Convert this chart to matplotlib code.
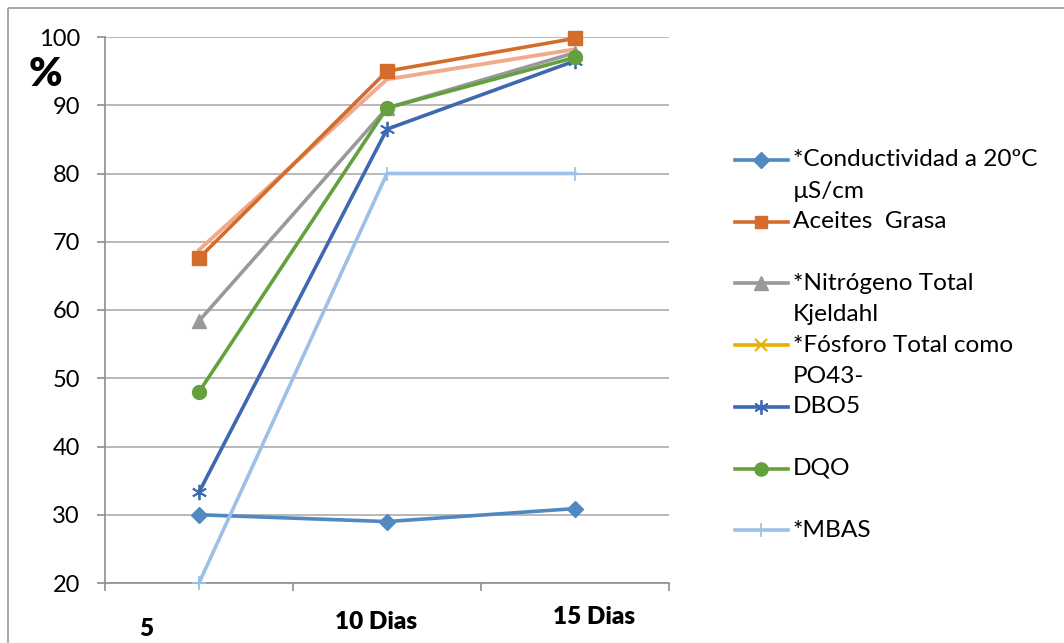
import matplotlib
matplotlib.use("Agg")
import matplotlib.pyplot as plt
import numpy as np
from matplotlib.lines import Line2D
from matplotlib.patches import Rectangle
import matplotlib.transforms as mtransforms

plt.rcParams['font.family'] = ['Lato', 'DejaVu Sans']

categories = ["5", "10 Dias", "15 Dias"]
conductividad = [30.0, 29.0, 30.9]
aceites = [67.6, 95.0, 99.8]
nitrogeno = [58.4, 89.6, 97.7]
fosforo = [np.nan, np.nan, np.nan]
dbo5 = [33.3, 86.5, 96.5]
dqo = [48.0, 89.6, 97.0]
mbas = [20.0, 80.0, 80.0]
extra_salmon = [68.8, 93.8, 98.2]

series_labels = ["*Conductividad a 20ºC\nµS/cm", "Aceites  Grasa", "*Nitrógeno Total\nKjeldahl",
                 "*Fósforo Total como\nPO43-", "DBO5", "DQO", "*MBAS"]
yticks = [20, 30, 40, 50, 60, 70, 80, 90, 100]

styles = [
    dict(color="#4F89C0", marker="D", ms=8.5, lw=2.6),
    dict(color="#D46D2C", marker="s", ms=9.5, lw=2.6),
    dict(color="#999999", marker="^", ms=10, lw=2.6),
    dict(color="#E6B000", marker="x", ms=9, lw=2.6, mew=1.5),
    dict(color="#3E68B0", marker=(6, 2, 0), ms=11, lw=2.6, mew=1.3),
    dict(color="#64A03D", marker="o", ms=10, lw=2.6),
    dict(color="#9DC0E6", marker="+", ms=10, lw=2.6, mew=1.3),
]
data = [conductividad, aceites, nitrogeno, fosforo, dbo5, dqo, mbas]

W, H = 1064, 643
fig = plt.figure(figsize=(W / 100, H / 100), dpi=100)
ax = fig.add_axes([105 / W, 1 - 583 / H, (669 - 105) / W, (583 - 37) / H])

x = np.arange(len(categories))
ax.plot(x, extra_salmon, color="#F2AA8C", lw=2.8, zorder=2, clip_on=False)
for i, (vals, st) in enumerate(zip(data, styles)):
    ax.plot(x, vals, color=st["color"], marker=st["marker"], markersize=st["ms"],
            linewidth=st["lw"], markeredgewidth=st.get("mew", 1.0),
            markeredgecolor=st["color"], markerfacecolor=st["color"],
            zorder=3 + i, clip_on=False)

ax.set_xlim(-0.5, 2.5)
ax.set_ylim(20, 100)
ax.set_yticks(yticks)
ax.set_yticklabels([str(v) for v in yticks], fontsize=17)
ax.yaxis.grid(True, color="#ADADAD", lw=1.2)
ax.set_axisbelow(True)
for s in ["top", "right"]:
    ax.spines[s].set_visible(False)
for s in ["left", "bottom"]:
    ax.spines[s].set_color("#8E8E8E")
    ax.spines[s].set_linewidth(1.2)
ax.tick_params(axis="y", length=6, width=1.2, color="#8E8E8E", pad=12)
ax.set_xticks([])
ax.set_xticks([-0.5, 0.5, 1.5, 2.5], minor=True)
ax.tick_params(axis="x", which="minor", length=6, width=1.2, color="#8E8E8E", direction="out")
ax.tick_params(axis="x", which="major", length=0)

label_offsets = [(-53, -46), (-11, -39), (19, -34)]
for i, (lab, (dx, dy)) in enumerate(zip(categories, label_offsets)):
    tr = mtransforms.offset_copy(ax.get_xaxis_transform(), fig=fig, x=dx, y=dy, units="dots")
    ax.text(i, 0, lab, transform=tr, ha="center", va="center", fontsize=17.5, fontweight="heavy")

# overlay axes in pixel coords for frame, % sign and legend
lax = fig.add_axes([0, 0, 1, 1], zorder=-1)
lax.set_xlim(0, W)
lax.set_ylim(H, 0)
lax.axis("off")
lax.add_patch(Rectangle((8, 8), W, H, fill=False, edgecolor="#A0A0A0", lw=1.3))
lax.text(45, 75, "%", fontsize=29, fontweight="heavy", ha="center", va="center")

leg_top = 160
leg_step = 61.7
for i, (lab, st) in enumerate(zip(series_labels, styles)):
    y = leg_top + i * leg_step
    lax.add_line(Line2D([735, 788], [y, y], color=st["color"], lw=st["lw"]))
    lax.add_line(Line2D([761], [y], color=st["color"], marker=st["marker"], markersize=st["ms"] * 0.95,
                        markeredgewidth=st.get("mew", 1.0), markeredgecolor=st["color"],
                        markerfacecolor=st["color"], lw=0))
    lines = lab.split("\n")
    for j, ln in enumerate(lines):
        lax.text(793, y + j * 31, ln, fontsize=17.6, ha="left", va="center")

fig.savefig("out.png", dpi=100)
